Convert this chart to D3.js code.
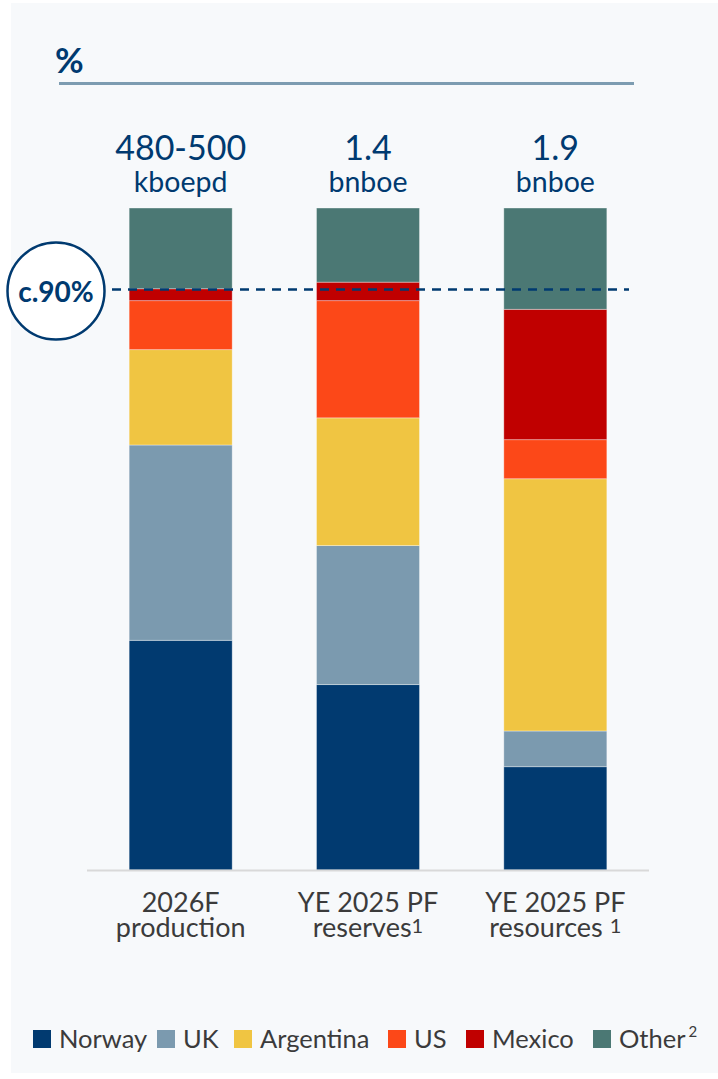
<!DOCTYPE html>
<html>
  <head>
    <meta charset="utf-8" />
    <title>Stacked share chart</title>
    <script src="https://d3js.org/d3.v7.min.js"></script>
    <style>
      body {
        margin: 0;
        background: #ffffff;
        font-family: Lato, "Open Sans", sans-serif;
      }
    </style>
  </head>
  <body>
    <svg width="718" height="1079"></svg>

    <script>
      // data
      const categories = ["2026F production", "YE 2025 PF reserves", "YE 2025 PF resources"];
      const catLines = [["2026F", "production"], ["YE 2025 PF", "reserves"], ["YE 2025 PF", "resources "]];
      const catNotes = ["", "1", "1"];
      const totals = ["480-500", "1.4", "1.9"];
      const units = ["kboepd", "bnboe", "bnboe"];

      const series = ["Norway", "UK", "Argentina", "US", "Mexico", "Other"];
      const norway = [34.7, 28.0, 15.6];
      const uk = [29.5, 21.0, 5.4];
      const argentina = [14.4, 19.3, 38.1];
      const us = [7.4, 17.7, 5.9];
      const mexico = [1.8, 2.8, 19.7];
      const other = [12.2, 11.2, 15.3];

      const refValue = 87.7;
      const refLabel = "c.90%";

      const colors = ["#013a70", "#7b9aaf", "#f0c542", "#fc4818", "#c00000", "#4b7874"];
      const navy = "#003a70";
      const textGrey = "#3b3b3b";

      const rows = categories.map((c, i) => ({
        cat: c,
        Norway: norway[i], UK: uk[i], Argentina: argentina[i],
        US: us[i], Mexico: mexico[i], Other: other[i]
      }));

      const svg = d3.select("svg");

      // panel background
      svg.append("rect")
        .attr("x", 11).attr("y", 3)
        .attr("width", 707).attr("height", 1070)
        .attr("fill", "#f7f9fb");

      // header
      svg.append("text")
        .attr("x", 55).attr("y", 73)
        .attr("font-size", 35).attr("font-weight", 700)
        .attr("fill", navy)
        .text("%");
      svg.append("line")
        .attr("x1", 59).attr("x2", 634)
        .attr("y1", 83.5).attr("y2", 83.5)
        .attr("stroke", "#7d9cb1").attr("stroke-width", 3);

      const x = d3.scaleBand()
        .domain(categories)
        .range([87, 649])
        .paddingInner(0.45)
        .paddingOuter(0.225);

      const y = d3.scaleLinear().domain([0, 100]).range([870, 208]);

      const stacked = d3.stack().keys(series)(rows);

      svg.append("g")
        .selectAll("g")
        .data(stacked)
        .join("g")
        .attr("fill", (d, i) => colors[i])
        .selectAll("rect")
        .data(d => d)
        .join("rect")
        .attr("x", d => x(d.data.cat))
        .attr("width", x.bandwidth())
        .attr("y", d => y(d[1]))
        .attr("height", d => y(d[0]) - y(d[1]))
        .attr("stroke", "#ffffff")
        .attr("stroke-opacity", 0.45)
        .attr("stroke-width", 0.8);

      // baseline
      const xAxis = svg.append("g")
        .attr("transform", `translate(0,${y(0)})`)
        .call(d3.axisBottom(x).tickSize(0).tickFormat(""));
      xAxis.select(".domain")
        .attr("d", "M0,0H562")
        .attr("transform", "translate(87,0.5)")
        .attr("stroke", "#d9d9d9")
        .attr("stroke-width", 2);

      // category labels
      const catG = svg.append("g")
        .attr("font-size", 27)
        .attr("fill", textGrey)
        .attr("text-anchor", "middle");
      categories.forEach((c, i) => {
        const cx = x(c) + x.bandwidth() / 2;
        catG.append("text").attr("x", cx).attr("y", 912).text(catLines[i][0]);
        const t = catG.append("text").attr("x", cx).attr("y", 937);
        t.append("tspan").text(catLines[i][1]);
        if (catNotes[i]) {
          t.append("tspan").attr("font-size", 20).attr("dy", -4).text(catNotes[i]);
        }
      });

      // totals above bars
      const topG = svg.append("g")
        .attr("fill", navy)
        .attr("text-anchor", "middle");
      categories.forEach((c, i) => {
        const cx = x(c) + x.bandwidth() / 2;
        topG.append("text").attr("x", cx).attr("y", 160)
          .attr("font-size", 34).text(totals[i]);
        topG.append("text").attr("x", cx).attr("y", 192)
          .attr("font-size", 28.5).text(units[i]);
      });

      // reference line + circle label
      const ry = y(refValue);
      svg.append("line")
        .attr("x1", 112).attr("x2", 629)
        .attr("y1", ry).attr("y2", ry)
        .attr("stroke", navy)
        .attr("stroke-width", 2.5)
        .attr("stroke-dasharray", "9,7");
      svg.append("circle")
        .attr("cx", 56).attr("cy", 291).attr("r", 48.5)
        .attr("fill", "#ffffff")
        .attr("stroke", navy)
        .attr("stroke-width", 2.5);
      svg.append("text")
        .attr("x", 56).attr("y", 302)
        .attr("text-anchor", "middle")
        .attr("font-size", 28).attr("font-weight", 700)
        .attr("fill", navy)
        .text(refLabel);

      // legend
      const legendX = [33, 157, 234, 388, 466, 593];
      const legend = svg.append("g").attr("font-size", 25.5).attr("fill", textGrey);
      series.forEach((s, i) => {
        legend.append("rect")
          .attr("x", legendX[i]).attr("y", 1030)
          .attr("width", 18).attr("height", 18)
          .attr("fill", colors[i]);
        const t = legend.append("text")
          .attr("x", legendX[i] + 26).attr("y", 1048);
        t.append("tspan").text(s);
        if (s === "Other") {
          t.append("tspan").attr("font-size", 15).attr("dy", -11).attr("dx", 3).text("2");
        }
      });
    </script>
  </body>
</html>
